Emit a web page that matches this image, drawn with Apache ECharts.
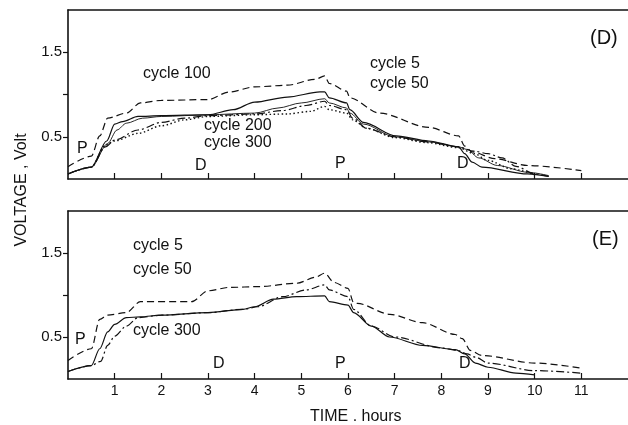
<!DOCTYPE html>
<html>
<head>
<meta charset="utf-8">
<script src="https://cdn.jsdelivr.net/npm/echarts@6/dist/echarts.min.js"></script>
<style>
  html, body { margin: 0; padding: 0; background: #fff; }
  #chart-container { width: 628px; height: 425px; }
</style>
</head>
<body>
<div id="chart-container"></div>
<script>
// tick labels
const xTicks = [1, 2, 3, 4, 5, 6, 7, 8, 9, 10, 11];
const yTicks = [0.5, 1.0, 1.5];
const yTickLabels = [0.5, 1.5];

// panel (D): [hours, volt]
const dCycle100 = [[0,0.145],[0.5,0.27],[0.68,0.51],[0.85,0.72],[1.25,0.78],[1.55,0.9],[2.0,0.93],[3.0,0.94],[3.45,1.03],[4.0,1.09],[4.7,1.11],[5.3,1.18],[5.5,1.22],[5.6,1.13],[5.97,1.04],[6.04,0.96],[6.67,0.78],[7.73,0.61],[8.37,0.51],[8.5,0.39],[8.66,0.32],[9.15,0.24],[9.85,0.16],[11.0,0.1]];
const dCycle5 = [[0,0.06],[0.5,0.14],[0.83,0.45],[1.0,0.65],[1.17,0.68],[1.5,0.74],[2.0,0.75],[3.0,0.76],[3.54,0.82],[4.0,0.91],[4.7,0.97],[5.4,1.03],[5.5,1.03],[5.6,0.96],[5.97,0.9],[6.04,0.82],[6.33,0.67],[7.03,0.51],[7.73,0.45],[8.37,0.38],[8.5,0.3],[8.66,0.2],[8.87,0.14],[9.85,0.06],[10.3,0.03]];
const dCycle50 = [[0,0.06],[0.5,0.14],[0.85,0.42],[1.05,0.58],[1.25,0.66],[1.6,0.72],[2.0,0.74],[3.0,0.76],[4.0,0.78],[4.5,0.84],[5.0,0.9],[5.5,0.95],[5.6,0.9],[5.97,0.84],[6.04,0.78],[6.33,0.65],[7.0,0.5],[7.73,0.44],[8.37,0.38],[8.55,0.35],[8.8,0.25],[9.2,0.16],[9.85,0.08],[10.3,0.04]];
const dCycle200 = [[0,0.06],[0.5,0.14],[0.8,0.38],[1.0,0.46],[1.5,0.58],[2.0,0.67],[2.5,0.72],[3.0,0.75],[4.0,0.77],[4.6,0.81],[5.1,0.87],[5.5,0.92],[5.6,0.87],[5.97,0.82],[6.1,0.72],[6.4,0.6],[7.0,0.5],[7.7,0.44],[8.37,0.38],[8.7,0.33],[9.0,0.3],[9.3,0.25],[9.6,0.15],[10.0,0.06],[10.3,0.03]];
const dCycle300 = [[0,0.06],[0.5,0.14],[0.8,0.4],[1.0,0.45],[1.5,0.54],[2.0,0.63],[2.5,0.7],[3.0,0.74],[4.0,0.76],[4.7,0.77],[5.2,0.8],[5.5,0.86],[5.6,0.82],[5.97,0.78],[6.1,0.7],[6.4,0.6],[7.0,0.49],[7.7,0.43],[8.37,0.37],[8.7,0.3],[9.0,0.22],[9.5,0.12],[10.0,0.05]];

// panel (E)
const eCycle5 = [[0,0.22],[0.5,0.36],[0.68,0.71],[0.85,0.76],[1.25,0.79],[1.55,0.92],[2.65,0.92],[3.0,1.05],[3.45,1.09],[4.1,1.1],[4.9,1.14],[5.3,1.21],[5.5,1.26],[5.7,1.15],[6.0,1.08],[6.12,0.91],[6.2,0.9],[6.9,0.77],[7.6,0.67],[8.3,0.53],[8.45,0.48],[8.62,0.34],[8.87,0.28],[10.0,0.19],[11.0,0.13]];
const eCycle50 = [[0,0.09],[0.5,0.16],[0.68,0.36],[0.85,0.56],[1.0,0.65],[1.25,0.73],[1.55,0.74],[2.0,0.76],[3.0,0.79],[3.75,0.83],[4.0,0.86],[4.4,0.95],[4.9,0.98],[5.5,0.99],[5.6,0.92],[6.0,0.88],[6.12,0.79],[6.5,0.63],[6.89,0.5],[7.6,0.4],[8.3,0.35],[8.5,0.3],[8.73,0.19],[9.0,0.14],[9.6,0.07],[10.0,0.05]];
const eCycle300 = [[0,0.09],[0.5,0.16],[0.7,0.21],[0.85,0.4],[1.0,0.51],[1.25,0.63],[1.5,0.73],[2.0,0.76],[3.0,0.79],[3.75,0.83],[4.07,0.86],[4.6,0.98],[5.1,1.06],[5.5,1.12],[5.6,1.06],[6.0,0.98],[6.12,0.83],[6.5,0.63],[7.0,0.5],[8.0,0.37],[8.35,0.34],[8.55,0.3],[8.73,0.26],[9.0,0.19],[10.0,0.1],[11.0,0.07]];

const ink = '#111';
const font = 'Liberation Sans';

var myChart = echarts.init(document.getElementById('chart-container'));

function line(data, grid, dash, width) {
    return {
        type: 'line',
        xAxisIndex: grid * 2,
        yAxisIndex: grid,
        data: data,
        showSymbol: false,
        smooth: 0.3,
        smoothMonotone: 'x',
        silent: true,
        lineStyle: { color: ink, width: width || 1.2, type: dash || 'solid' }
    };
}

function bottomAxis(grid, showLabels) {
    return {
        type: 'value', gridIndex: grid, min: 0, max: 12, interval: 1,
        axisLine: { lineStyle: { color: ink, width: 1.6 } },
        axisTick: { inside: true, length: 6, customValues: xTicks, lineStyle: { color: ink, width: 1.2 } },
        axisLabel: { show: showLabels, customValues: xTicks, color: ink, fontSize: 14, fontFamily: font, margin: 5 },
        splitLine: { show: false }
    };
}

function topAxis(grid) {
    return {
        type: 'value', gridIndex: grid, position: 'top', min: 0, max: 12,
        axisLine: { show: true, lineStyle: { color: ink, width: 1.6 } },
        axisTick: { show: false }, axisLabel: { show: false }, splitLine: { show: false }
    };
}

function leftAxis(grid) {
    return {
        type: 'value', gridIndex: grid, min: 0, max: 2, interval: 0.5,
        axisLine: { show: true, lineStyle: { color: ink, width: 1.6 } },
        axisTick: { show: true, length: 5, customValues: yTicks, lineStyle: { color: ink, width: 1.2 } },
        axisLabel: { customValues: yTickLabels, color: ink, fontSize: 15, fontFamily: font, margin: 6,
            formatter: v => v.toFixed(1) },
        splitLine: { show: false }
    };
}

function txt(x, y, s, size) {
    return { type: 'text', left: x, top: y - (size || 16) / 2 - 1,
        style: { text: s, fill: ink, font: (size || 16) + 'px "' + font + '"' } };
}

var option = {
    animation: false,
    backgroundColor: '#fff',
    grid: [
        { left: 68, top: 10, width: 566, height: 169 },
        { left: 68, top: 211, width: 566, height: 168 }
    ],
    xAxis: [bottomAxis(0, false), topAxis(0), bottomAxis(1, true), topAxis(1)],
    yAxis: [leftAxis(0), leftAxis(1)],
    series: [
        line(dCycle100, 0, [7, 4]),
        line(dCycle5, 0, 'solid'),
        line(dCycle50, 0, 'solid', 0.9),
        line(dCycle200, 0, [8, 3, 2, 3]),
        line(dCycle300, 0, [1.5, 2.5], 1.4),
        line(eCycle5, 1, [7, 4]),
        line(eCycle50, 1, 'solid'),
        line(eCycle300, 1, [8, 3, 2, 3])
    ],
    graphic: [
        txt(143, 75, 'cycle 100'),
        txt(204, 127, 'cycle 200'),
        txt(204, 144, 'cycle 300'),
        txt(370, 65, 'cycle 5'),
        txt(370, 85, 'cycle 50'),
        txt(590, 39, '(D)', 20),
        txt(77, 150, 'P'),
        txt(195, 167, 'D'),
        txt(335, 165, 'P'),
        txt(457, 165, 'D'),
        txt(133, 247, 'cycle 5'),
        txt(133, 271, 'cycle 50'),
        txt(133, 332, 'cycle 300'),
        txt(592, 240, '(E)', 20),
        txt(75, 341, 'P'),
        txt(213, 365, 'D'),
        txt(335, 365, 'P'),
        txt(459, 365, 'D'),
        txt(310, 418, 'TIME . hours', 16),
        {
            type: 'text', x: 22, y: 190, rotation: Math.PI / 2,
            style: { text: 'VOLTAGE , Volt', fill: ink, font: '16px "' + font + '"', align: 'center', verticalAlign: 'middle' }
        }
    ]
};

myChart.setOption(option);
</script>
</body>
</html>
